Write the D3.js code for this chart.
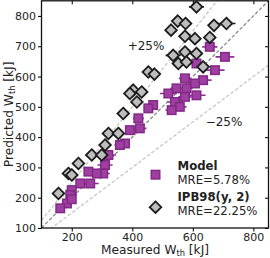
<!DOCTYPE html>
<html>
<head>
<meta charset="utf-8">
<script src="https://cdn.jsdelivr.net/npm/d3@7"></script>
<style>
  html, body { margin: 0; padding: 0; background: #fff; }
  svg { display: block; font-family: "DejaVu Sans", sans-serif; }
</style>
</head>
<body>
<svg id="chart" width="270" height="258"></svg>
<script>
// ---- data (kJ) ----
const modelMeasured  = [656, 706, 612, 673, 634, 574, 607, 579, 546, 519, 612, 574, 541, 557, 530, 469, 453, 420, 392, 425, 376, 359, 321, 310, 304, 255, 283, 228, 261, 200, 195, 184, 162, 200];
const modelPredicted = [698, 665, 643, 621, 588, 594, 577, 561, 561, 544, 538, 533, 516, 500, 489, 506, 495, 462, 423, 429, 379, 374, 341, 308, 280, 286, 280, 247, 247, 225, 209, 181, 165, 195];
const modelErr       = [25, 31, 26, 32, 28, 20, 22, 20, 20, 28, 30, 22, 25, 22, 20, 15, 15, 18, 15, 22, 15, 18, 25, 25, 22, 15, 15, 15, 28, 12, 12, 12, 10, 12];

const ipbMeasured  = [612, 550, 576, 670, 711, 528, 574, 607, 656, 535, 574, 612, 552, 579, 634, 453, 473, 403, 431, 392, 415, 370, 321, 354, 310, 266, 299, 222, 189, 200, 156];
const ipbPredicted = [830, 783, 775, 769, 775, 753, 733, 725, 729, 670, 681, 676, 643, 648, 632, 615, 608, 555, 549, 544, 516, 478, 412, 412, 374, 341, 341, 313, 280, 275, 214];
const ipbErr       = [25, 20, 20, 15, 30, 15, 15, 15, 15, 25, 15, 15, 15, 15, 20, 12, 12, 12, 12, 12, 12, 12, 12, 12, 12, 12, 12, 12, 12, 12, 10];

const xTicks = [200, 400, 600, 800];
const yTicks = [100, 200, 300, 400, 500, 600, 700, 800];
const bandLines = [
  { k: 1.25, kind: "band" },
  { k: 1.00, kind: "ident" },
  { k: 0.75, kind: "band" }
];
const legendItems = [
  { name: "Model", mre: "MRE=5.78%" },
  { name: "IPB98(y, 2)", mre: "MRE=22.25%" }
];
const domain = [100, 850];

// ---- layout ----
const L = 41.5, R = 268.5, T = 0.8, B = 228;
const svg = d3.select("#chart");
const x = d3.scaleLinear().domain(domain).range([L, R]);
const y = d3.scaleLinear().domain(domain).range([B, T]);

const purpleFill = "#9e3fa1", purpleEdge = "#822a86", purpleBar = "#8e3092";
const grayFill = "#bdbdbd", grayEdge = "#1c1c1c";

svg.append("defs").append("clipPath").attr("id", "clip")
  .append("rect").attr("x", L).attr("y", T).attr("width", R - L).attr("height", B - T);

const plot = svg.append("g").attr("clip-path", "url(#clip)");

// reference lines
bandLines.forEach(b => {
  const xs = [domain[0], domain[1]];
  plot.append("line")
    .attr("x1", x(xs[0])).attr("y1", y(xs[0] * b.k))
    .attr("x2", x(xs[1])).attr("y2", y(xs[1] * b.k))
    .attr("stroke", b.kind === "ident" ? "#8a8a8a" : "#c8c8c8")
    .attr("stroke-width", 1.3)
    .attr("stroke-dasharray", "3.5,2");
});

function drawSeries(mx, my, me, barColor, drawMarker) {
  const g = plot.append("g");
  mx.forEach((v, i) => {
    g.append("line")
      .attr("x1", x(v - me[i])).attr("x2", x(v + me[i]))
      .attr("y1", y(my[i])).attr("y2", y(my[i]))
      .attr("stroke", barColor).attr("stroke-width", 1.6);
  });
  mx.forEach((v, i) => drawMarker(g, x(v), y(my[i])));
}

function square(g, cx, cy) {
  const s = 8.5;
  g.append("rect").attr("x", cx - s / 2).attr("y", cy - s / 2)
    .attr("width", s).attr("height", s)
    .attr("fill", purpleFill).attr("stroke", purpleEdge).attr("stroke-width", 1.5);
}
function diamond(g, cx, cy) {
  const h = 5.8;
  g.append("path")
    .attr("d", `M${cx},${cy - h}L${cx + h},${cy}L${cx},${cy + h}L${cx - h},${cy}Z`)
    .attr("fill", grayFill).attr("stroke", grayEdge).attr("stroke-width", 1.8)
    .attr("stroke-linejoin", "miter");
}

drawSeries(modelMeasured, modelPredicted, modelErr, purpleBar, square);
drawSeries(ipbMeasured, ipbPredicted, ipbErr, grayEdge, diamond);

// band labels
svg.append("text").attr("x", 146).attr("y", 49.5).attr("text-anchor", "middle")
  .attr("font-size", 12).attr("fill", "#222").text("+25%");
svg.append("text").attr("x", 224).attr("y", 126).attr("text-anchor", "middle")
  .attr("font-size", 12).attr("fill", "#222").text("\u221225%");

// axes
const tickFont = 11;
const axB = svg.append("g").attr("transform", `translate(0,${B})`)
  .call(d3.axisBottom(x).tickValues(xTicks).tickSize(3.5).tickPadding(2).tickFormat(d3.format("d")));
const axL = svg.append("g").attr("transform", `translate(${L},0)`)
  .call(d3.axisLeft(y).tickValues(yTicks).tickSize(3.5).tickPadding(2).tickFormat(d3.format("d")));
const axT = svg.append("g").attr("transform", `translate(0,${T})`)
  .call(d3.axisTop(x).tickValues(xTicks).tickSize(-3.5).tickFormat(""));
const axR = svg.append("g").attr("transform", `translate(${R},0)`)
  .call(d3.axisRight(y).tickValues(yTicks).tickSize(-3.5).tickFormat(""));

[axB, axL, axT, axR].forEach(a => {
  a.select(".domain").remove();
  a.selectAll(".tick line").attr("stroke", "#111").attr("stroke-width", 1.1);
  a.selectAll(".tick text").attr("font-size", tickFont).attr("fill", "#222")
    .attr("font-family", "DejaVu Sans, sans-serif");
});

// frame
svg.append("rect").attr("x", L).attr("y", T).attr("width", R - L).attr("height", B - T)
  .attr("fill", "none").attr("stroke", "#111").attr("stroke-width", 1.3);

// axis labels
const xl = svg.append("text").attr("x", (L + R) / 2).attr("y", 253.8)
  .attr("text-anchor", "middle").attr("font-size", 12.2).attr("fill", "#222");
xl.append("tspan").text("Measured W");
xl.append("tspan").attr("font-size", 8.3).attr("dy", 2).text("th");
xl.append("tspan").attr("dy", -2).text(" [kJ]");

const yl = svg.append("text")
  .attr("transform", `translate(12.5,${(T + B) / 2}) rotate(-90)`)
  .attr("text-anchor", "middle").attr("font-size", 12.2).attr("fill", "#222");
yl.append("tspan").text("Predicted W");
yl.append("tspan").attr("font-size", 8.3).attr("dy", 2).text("th");
yl.append("tspan").attr("dy", -2).text(" [kJ]");

// legend
const leg = svg.append("g");
const legY = [169.7, 200.7];
legendItems.forEach((it, i) => {
  const gy = legY[i];
  if (i === 0) square(leg, 155.5, gy + 5); else diamond(leg, 155.5, gy + 6.5);
  leg.append("text").attr("x", 177.5).attr("y", gy).attr("font-size", 11.7)
    .attr("font-weight", "bold").attr("fill", "#222").text(it.name);
  leg.append("text").attr("x", 177.5).attr("y", gy + 13.8).attr("font-size", 11.7)
    .attr("fill", "#222").text(it.mre);
});
</script>
</body>
</html>
